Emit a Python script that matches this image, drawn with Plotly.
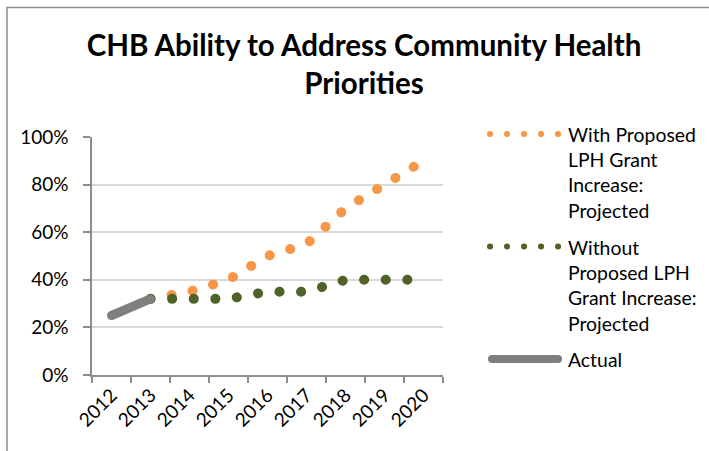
import plotly.graph_objects as go

# Chart data
years = ['2012', '2013', '2014', '2015', '2016', '2017', '2018', '2019', '2020']
actual = [0.25, 0.32, None, None, None, None, None, None, None]
with_increase = [None, 0.32, 0.35, 0.40, 0.50, 0.55, 0.70, 0.80, 0.90]
without_increase = [None, 0.32, 0.32, 0.32, 0.35, 0.35, 0.40, 0.40, 0.40]

title_text = 'CHB Ability to Address Community Health<br>Priorities'
legend_names = [
    'With Proposed<br>LPH Grant<br>Increase:<br>Projected',
    'Without<br>Proposed LPH<br>Grant Increase:<br>Projected',
    'Actual',
]

ORANGE = '#f79646'
GREEN = '#4f6228'
GREY = '#7f7f7f'
AXIS = '#8c8c8c'
FONT = 'Lato'

# plot area in pixels
W, H = 709, 451
L, R, T, B = 92, 266, 137, 76
PW, PH = W - L - R, H - T - B


def px(x):
    return (x - L) / PW


def py(y):
    return (H - B - y) / PH


fig = go.Figure()

fig.add_trace(go.Scatter(x=years, y=with_increase, mode='lines',
                         line=dict(color=ORANGE, width=10, dash='0.1px,21.3px'),
                         showlegend=False))
fig.add_trace(go.Scatter(x=years, y=without_increase, mode='lines',
                         line=dict(color=GREEN, width=10, dash='0.1px,21.5px'),
                         showlegend=False))
fig.add_trace(go.Scatter(x=years, y=actual, mode='lines',
                         line=dict(color=GREY, width=9),
                         showlegend=False))

# hand-built legend, so the samples can be as long as the original ones
shapes = [
    dict(type='rect', xref='paper', yref='paper',
         x0=px(7), x1=px(730), y0=py(470), y1=py(7.5),
         line=dict(color=AXIS, width=1.5)),
]
annotations = []
legend_rows = [
    (ORANGE, 6, '0.1px,16.9px', 134, legend_names[0]),
    (GREEN, 6, '0.1px,16.9px', 246.5, legend_names[1]),
    (GREY, 8, 'solid', 359, legend_names[2]),
]
for color, width, dash, y, name in legend_rows:
    x0, x1 = (490, 558.1) if dash != 'solid' else (492, 558)
    shapes.append(dict(type='line', xref='paper', yref='paper',
                       x0=px(x0), x1=px(x1), y0=py(y), y1=py(y),
                       line=dict(color=color, width=width, dash=dash)))
    annotations.append(dict(xref='paper', yref='paper', x=px(566), y=py(y - 13),
                            xanchor='left', yanchor='top', align='left',
                            text=name, showarrow=False,
                            font=dict(family=FONT, size=19.4, color='#000000')))

fig.update_layout(
    width=W, height=H,
    margin=dict(l=L, r=R, t=T, b=B),
    paper_bgcolor='white', plot_bgcolor='white',
    title=dict(text=title_text, x=px(364), xref='paper', xanchor='center',
               y=1 - 56 / H, yanchor='middle',
               font=dict(family=FONT, size=29.5, color='#000000', weight='bold')),
    font=dict(family=FONT, size=19, color='#000000'),
    shapes=shapes,
    annotations=annotations,
    showlegend=False,
)

fig.update_xaxes(type='category', range=[-0.5, 8.5], tickson='boundaries',
                 ticks='outside', ticklen=6, automargin=False,
                 tickwidth=1.5, tickcolor=AXIS, showline=True, linecolor=AXIS,
                 linewidth=1.5, showgrid=False, tickangle=-45,
                 tickfont=dict(family=FONT, size=19, color='#000000'))
fig.update_yaxes(range=[0, 1], dtick=0.2, tickformat='.0%', ticks='outside', ticklen=7,
                 tickwidth=1.5, tickcolor=AXIS, showline=True, linecolor=AXIS,
                 linewidth=1.5, showgrid=True, gridcolor='#d9d9d9', gridwidth=1.5,
                 zeroline=False, ticklabelstandoff=11, automargin=False,
                 tickfont=dict(family=FONT, size=19, color='#000000'))

# no page margin, and round line caps turn the short dashes into dots
post = """
document.body.style.margin = '0';
var gd = document.getElementById('{plot_id}');
function roundCaps() {
  gd.querySelectorAll('path.js-line, .shapelayer path').forEach(function (p) {
    p.style.strokeLinecap = 'round';
  });
}
roundCaps();
gd.on('plotly_afterplot', roundCaps);
"""

fig.write_html("out.html", post_script=post, config={'displayModeBar': False})
